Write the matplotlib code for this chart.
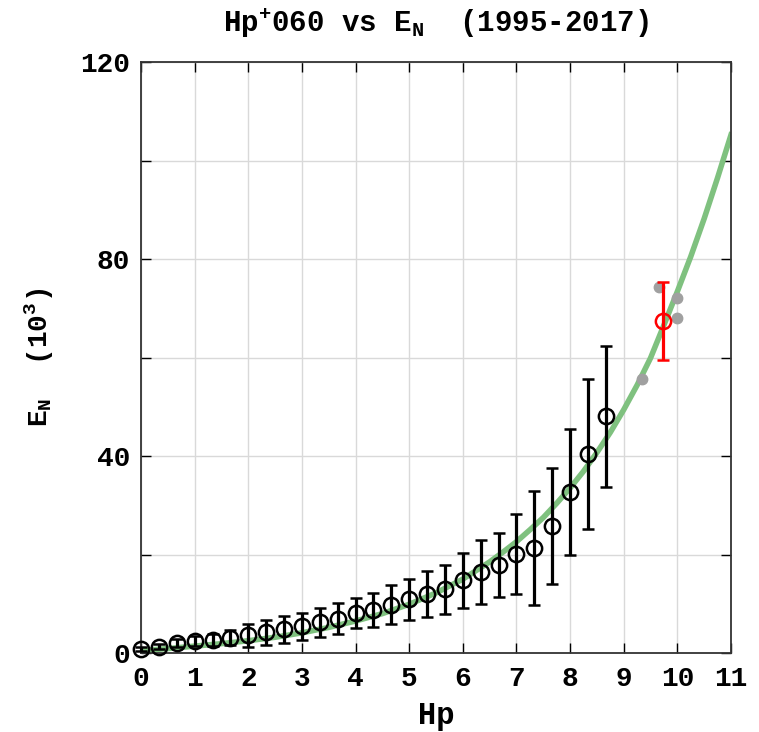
import matplotlib
matplotlib.use("Agg")
import matplotlib.pyplot as plt
from matplotlib.ticker import MultipleLocator

plt.rcParams["font.family"] = "Liberation Mono"
plt.rcParams["font.weight"] = "bold"
plt.rcParams["axes.titleweight"] = "bold"
plt.rcParams["axes.labelweight"] = "bold"
plt.rcParams["mathtext.fontset"] = "custom"
plt.rcParams["mathtext.rm"] = "Liberation Mono:bold"
plt.rcParams["mathtext.it"] = "Liberation Mono:bold"
plt.rcParams["mathtext.bf"] = "Liberation Mono:bold"

# binned means of E_N (10^3) per Hp bin, with standard deviations
hp = [0, 1/3, 2/3, 1, 4/3, 5/3, 2, 7/3, 8/3, 3, 10/3, 11/3, 4, 13/3, 14/3,
      5, 16/3, 17/3, 6, 19/3, 20/3, 7, 22/3, 23/3, 8, 25/3, 26/3]
en_mean = [0.8, 1.3, 2.0, 2.4, 2.7, 3.1, 3.6, 4.2, 4.8, 5.4, 6.2, 7.0, 8.1, 8.7,
           9.8, 10.9, 12.0, 12.9, 14.8, 16.5, 17.9, 20.1, 21.3, 25.8, 32.6, 40.4, 48.1]
en_std = [0.4, 0.5, 0.8, 1.0, 1.2, 1.5, 2.3, 2.5, 2.7, 2.8, 2.9, 3.2, 3.0, 3.5,
          4.0, 4.2, 4.6, 5.0, 5.6, 6.5, 6.5, 8.1, 11.6, 11.8, 12.8, 15.3, 14.3]

# individual extreme events
hp_ext = [28/3, 29/3, 10, 10]
en_ext = [55.6, 74.3, 72.1, 68.0]

# mean of the extreme events
hp_ext_mean = [9.74]
en_ext_mean = [67.4]
en_ext_std = [8.0]

# fitted curve
hp_fit = [0, 0.5, 1, 1.5, 2, 2.5, 3, 3.5, 4, 4.5, 5, 5.5, 6, 6.5, 6.75, 7,
          7.25, 7.5, 7.75, 8, 8.25, 8.5, 8.75, 9, 9.25, 9.5, 9.75, 10, 10.25,
          10.5, 10.75, 11]
en_fit = [0.5, 0.9, 1.4, 1.9, 2.5, 3.2, 4.1, 5.2, 6.5, 8.0, 9.9, 12.2, 15.0,
          18.5, 20.5, 22.6, 25.0, 27.5, 30.4, 33.5, 36.9, 40.7, 44.8, 49.4,
          54.4, 59.9, 66.6, 73.4, 80.5, 88.2, 96.5, 105.2]

fig = plt.figure(figsize=(7.59, 7.32), dpi=100)
ax = fig.add_axes([0.1858, 0.1079, 0.7773, 0.8074])

ax.plot(hp_fit, en_fit, color="#7fc17f", lw=4, zorder=2)
ax.errorbar(hp, en_mean, yerr=en_std, fmt="o", mfc="none", mec="black",
            ecolor="black", ms=11, mew=1.8, elinewidth=2.3, capsize=4,
            capthick=2.3, zorder=3, clip_on=False)
ax.plot(hp_ext, en_ext, "o", color="#a0a0a0", ms=7.5, zorder=4)
ax.errorbar(hp_ext_mean, en_ext_mean, yerr=en_ext_std, fmt="o", mfc="none",
            mec="red", ecolor="red", ms=11, mew=1.8, elinewidth=2.3, capsize=4,
            capthick=2.3, zorder=5)

ax.set_xlim(0, 11)
ax.set_ylim(0, 120)
ax.xaxis.set_major_locator(MultipleLocator(1))
ax.set_yticks([0, 20, 40, 60, 80, 100, 120])
ax.set_yticklabels(["0", "", "40", "", "80", "", "120"])
ax.grid(True, color="#d9d9d9", lw=1)
ax.set_axisbelow(True)
ax.tick_params(direction="in", length=7, width=1, top=True, right=True,
               labelsize=20)
ax.tick_params(axis="x", pad=9)
ax.tick_params(axis="y", pad=8)
for s in ax.spines.values():
    s.set_linewidth(1.3)
    s.set_color("#333333")

ax.set_xlabel("Hp", fontsize=22, labelpad=7)
ax.set_ylabel(r"E$_{\rm N}$  (10$^{\rm 3}$)", fontsize=20, labelpad=17)
ax.set_title(r"Hp$^{+}$060 vs E$_{\rm N}$  (1995-2017)", fontsize=21, pad=22)

fig.savefig("out.png", dpi=100)
